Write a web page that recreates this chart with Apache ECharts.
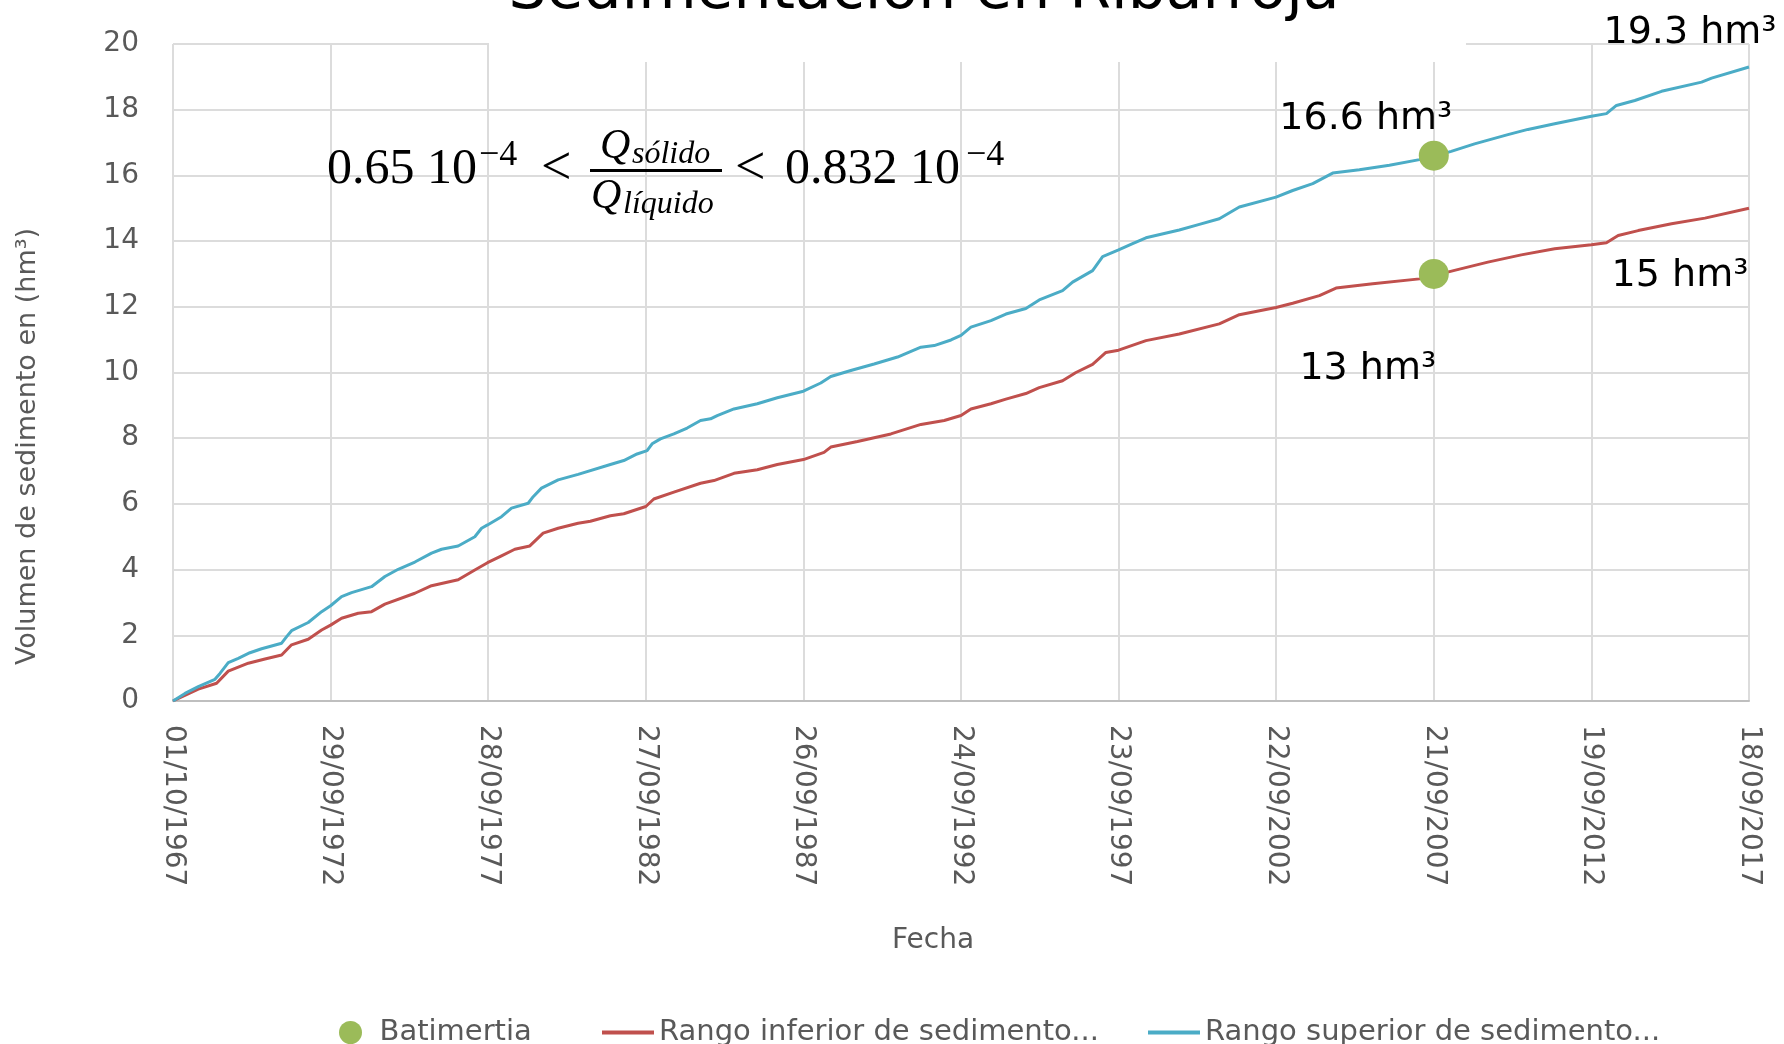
<!DOCTYPE html>
<html>
<head>
<meta charset="utf-8">
<title>Sedimentación en Ribarroja</title>
<script src="https://cdn.jsdelivr.net/npm/echarts/dist/echarts.min.js"></script>
<style>
	html, body { margin: 0; padding: 0; background: #fff; }
	#chart { width: 1784px; height: 1044px; }
</style>
</head>
<body>
<div id="chart"></div>
<script>
// etiquetas del eje X (una cada 1825 dias desde 01/10/1967)
var etiquetasFecha = ['01/10/1967', '29/09/1972', '28/09/1977', '27/09/1982', '26/09/1987', '24/09/1992',
	'23/09/1997', '22/09/2002', '21/09/2007', '19/09/2012', '18/09/2017'];
var pasoDias = 1825;

// [dias desde 01/10/1967, volumen hm3]
var rangoInferior = [[0, 0], [293, 0.36], [505, 0.54], [640, 0.91], [872, 1.15], [1065, 1.28], [1258, 1.40],
	[1373, 1.71], [1566, 1.88], [1721, 2.16], [1825, 2.31], [1952, 2.52], [2145, 2.67], [2299, 2.72],
	[2454, 2.95], [2801, 3.28], [2994, 3.51], [3302, 3.69], [3495, 3.99], [3642, 4.21], [3804, 4.42],
	[3958, 4.62], [4132, 4.72], [4286, 5.11], [4460, 5.26], [4691, 5.41], [4833, 5.47], [5065, 5.64],
	[5220, 5.70], [5475, 5.92], [5568, 6.15], [5800, 6.36], [6109, 6.63], [6264, 6.71], [6496, 6.93],
	[6766, 7.04], [6998, 7.20], [7300, 7.35], [7539, 7.57], [7617, 7.73], [7926, 7.90], [8313, 8.13],
	[8661, 8.42], [8931, 8.54], [9125, 8.69], [9240, 8.89], [9472, 9.05], [9645, 9.19], [9876, 9.36],
	[10031, 9.54], [10301, 9.75], [10456, 10.00], [10649, 10.25], [10803, 10.61], [10950, 10.68],
	[11267, 10.97], [11653, 11.17], [12116, 11.48], [12348, 11.76], [12773, 11.98], [12966, 12.11],
	[13275, 12.34], [13468, 12.57], [13893, 12.70], [14434, 12.85], [14600, 12.95], [14840, 13.11],
	[15226, 13.36], [15613, 13.58], [16000, 13.77], [16425, 13.89], [16599, 13.95], [16735, 14.17],
	[16967, 14.32], [17353, 14.53], [17740, 14.70], [18250, 15.0]];

var rangoSuperior = [[0, 0], [139, 0.23], [293, 0.44], [486, 0.66], [544, 0.84], [640, 1.17], [756, 1.30],
	[891, 1.47], [1026, 1.59], [1258, 1.76], [1316, 1.96], [1373, 2.14], [1566, 2.39], [1721, 2.72],
	[1825, 2.90], [1952, 3.18], [2068, 3.30], [2299, 3.48], [2454, 3.79], [2608, 4.01], [2801, 4.23],
	[2994, 4.50], [3110, 4.62], [3302, 4.72], [3495, 5.00], [3573, 5.26], [3642, 5.36], [3804, 5.61],
	[3920, 5.87], [4113, 6.02], [4171, 6.22], [4267, 6.48], [4460, 6.73], [4691, 6.90], [5065, 7.20],
	[5220, 7.32], [5374, 7.52], [5490, 7.62], [5548, 7.83], [5645, 7.98], [5800, 8.13], [5954, 8.31],
	[6109, 8.54], [6225, 8.59], [6302, 8.69], [6496, 8.89], [6766, 9.05], [6998, 9.23], [7300, 9.43],
	[7501, 9.68], [7617, 9.88], [7849, 10.06], [8119, 10.26], [8390, 10.47], [8661, 10.77], [8815, 10.82],
	[9009, 10.99], [9125, 11.13], [9240, 11.38], [9472, 11.58], [9645, 11.78], [9876, 11.95], [10031, 12.21],
	[10301, 12.49], [10417, 12.75], [10649, 13.10], [10765, 13.53], [10950, 13.73], [11112, 13.92],
	[11267, 14.10], [11653, 14.34], [11885, 14.51], [12116, 14.68], [12348, 15.04], [12773, 15.34],
	[12966, 15.54], [13198, 15.75], [13429, 16.07], [13738, 16.17], [14086, 16.31], [14434, 16.48],
	[14600, 16.58], [14801, 16.73], [15072, 16.96], [15458, 17.24], [15690, 17.40], [16000, 17.57],
	[16425, 17.80], [16599, 17.88], [16715, 18.13], [16928, 18.28], [17237, 18.56], [17701, 18.84],
	[17817, 18.96], [18250, 19.3]];

var batimetria = [[14600, 16.6], [14600, 13]];

var gris = '#595959',
	fuente = '"DejaVu Sans", sans-serif',
	serif = '"Liberation Serif", "DejaVu Serif", serif';

function hm3(v) {
	return (Math.round(v * 10) / 10) + ' hm³';
}

// etiqueta al final de cada curva
function etiquetaFinal(serie, offset) {
	var ultimo = serie[serie.length - 1];
	return {
		silent: true,
		symbol: 'circle',
		symbolSize: 1,
		itemStyle: { color: 'rgba(0,0,0,0)' },
		label: {
			show: true,
			position: 'inside',
			offset: offset,
			fontSize: 38,
			fontFamily: fuente,
			color: '#000',
			formatter: function(p) { return hm3(p.value); }
		},
		data: [{ coord: ultimo, value: ultimo[1] }]
	};
}

function leyenda(left, nombre, icono, ancho, alto) {
	return {
		left: left,
		top: 1013,
		itemWidth: ancho,
		itemHeight: alto,
		itemGap: 0,
		selectedMode: false,
		data: [{ name: nombre, icon: icono }],
		textStyle: { fontSize: 29, fontFamily: fuente, color: gris }
	};
}

function texto(txt, x, y, size, estilo) {
	return {
		type: 'text',
		x: x,
		y: y,
		z: 110,
		style: {
			text: txt,
			font: (estilo || '') + ' ' + size + 'px ' + serif,
			fill: '#000',
			align: 'left',
			verticalAlign: 'middle'
		}
	};
}

var chart = echarts.init(document.getElementById('chart'));
chart.setOption({
	animation: false,
	backgroundColor: '#fff',
	grid: { left: 173, right: 35, top: 44, bottom: 343 },
	legend: [
		leyenda(334, 'Batimertia', 'circle', 48, 23),
		leyenda(597, 'Rango inferior de sedimento...', 'rect', 52, 4),
		leyenda(1143, 'Rango superior de sedimento...', 'rect', 52, 4)
	],
	xAxis: {
		type: 'value',
		min: 0,
		max: pasoDias * (etiquetasFecha.length - 1),
		interval: pasoDias,
		name: 'Fecha',
		nameLocation: 'middle',
		nameGap: 226,
		nameTextStyle: { fontSize: 28, fontFamily: fuente, color: gris, padding: [0, 56, 0, 0] },
		axisLine: { lineStyle: { color: '#BFBFBF', width: 2 } },
		axisTick: { show: false },
		axisLabel: {
			rotate: -90,
			margin: 24,
			fontSize: 28,
			fontFamily: fuente,
			color: gris,
			formatter: function(v) { return etiquetasFecha[Math.round(v / pasoDias)]; }
		},
		splitLine: { show: true, lineStyle: { color: '#DCDCDC', width: 2 } }
	},
	yAxis: {
		type: 'value',
		min: 0,
		max: 20,
		interval: 2,
		name: 'Volumen de sedimento en (hm³)',
		nameLocation: 'middle',
		nameGap: 132,
		nameTextStyle: { fontSize: 27, fontFamily: fuente, color: gris, padding: [0, 148, 0, 0] },
		axisLine: { show: false },
		axisTick: { show: false },
		axisLabel: { margin: 34, fontSize: 28, fontFamily: fuente, color: gris },
		splitLine: { lineStyle: { color: '#DCDCDC', width: 2 } }
	},
	series: [{
		name: 'Rango inferior de sedimento...',
		type: 'line',
		data: rangoInferior,
		symbol: 'none',
		color: '#C0504D',
		lineStyle: { width: 3 },
		z: 3,
		markPoint: etiquetaFinal(rangoInferior, [-69, 68])
	}, {
		name: 'Rango superior de sedimento...',
		type: 'line',
		data: rangoSuperior,
		symbol: 'none',
		color: '#4BACC6',
		lineStyle: { width: 3 },
		z: 3,
		markPoint: etiquetaFinal(rangoSuperior, [-59, -34])
	}, {
		name: 'Batimertia',
		type: 'scatter',
		symbolSize: 30,
		color: '#9BBB59',
		itemStyle: { opacity: 1 },
		z: 5,
		label: {
			show: true,
			position: 'inside',
			fontSize: 38,
			fontFamily: fuente,
			color: '#000',
			formatter: function(p) { return hm3(p.value[1]); }
		},
		data: [
			{ value: batimetria[0], label: { offset: [-68, -37] } },
			{ value: batimetria[1], label: { offset: [-66, 95] } }
		]
	}],
	graphic: [
		// caja blanca del titulo (tapa la parte alta de la rejilla)
		{ type: 'rect', z: 100, shape: { x: 489, y: 0, width: 977, height: 62 }, style: { fill: '#fff' } },
		{
			type: 'text', x: 924, y: -8, z: 101,
			style: {
				text: 'Sedimentación en Ribarroja',
				font: '60px ' + fuente,
				fill: '#000',
				align: 'center',
				verticalAlign: 'middle'
			}
		},
		// 0.65 10^-4 < Qsolido / Qliquido < 0.832 10^-4
		texto('0.65 10', 327, 170, 50),
		texto('−4', 479, 156, 36),
		texto('<', 541, 170, 54),
		{ type: 'rect', z: 110, shape: { x: 590, y: 169, width: 132, height: 3 }, style: { fill: '#000' } },
		texto('Q', 600, 147, 42, 'italic'),
		texto('sólido', 632, 155, 32, 'italic'),
		texto('Q', 591, 197, 42, 'italic'),
		texto('líquido', 623, 205, 32, 'italic'),
		texto('<', 735, 170, 54),
		texto('0.832 10', 785, 170, 50),
		texto('−4', 966, 156, 36)
	]
});
</script>
</body>
</html>
